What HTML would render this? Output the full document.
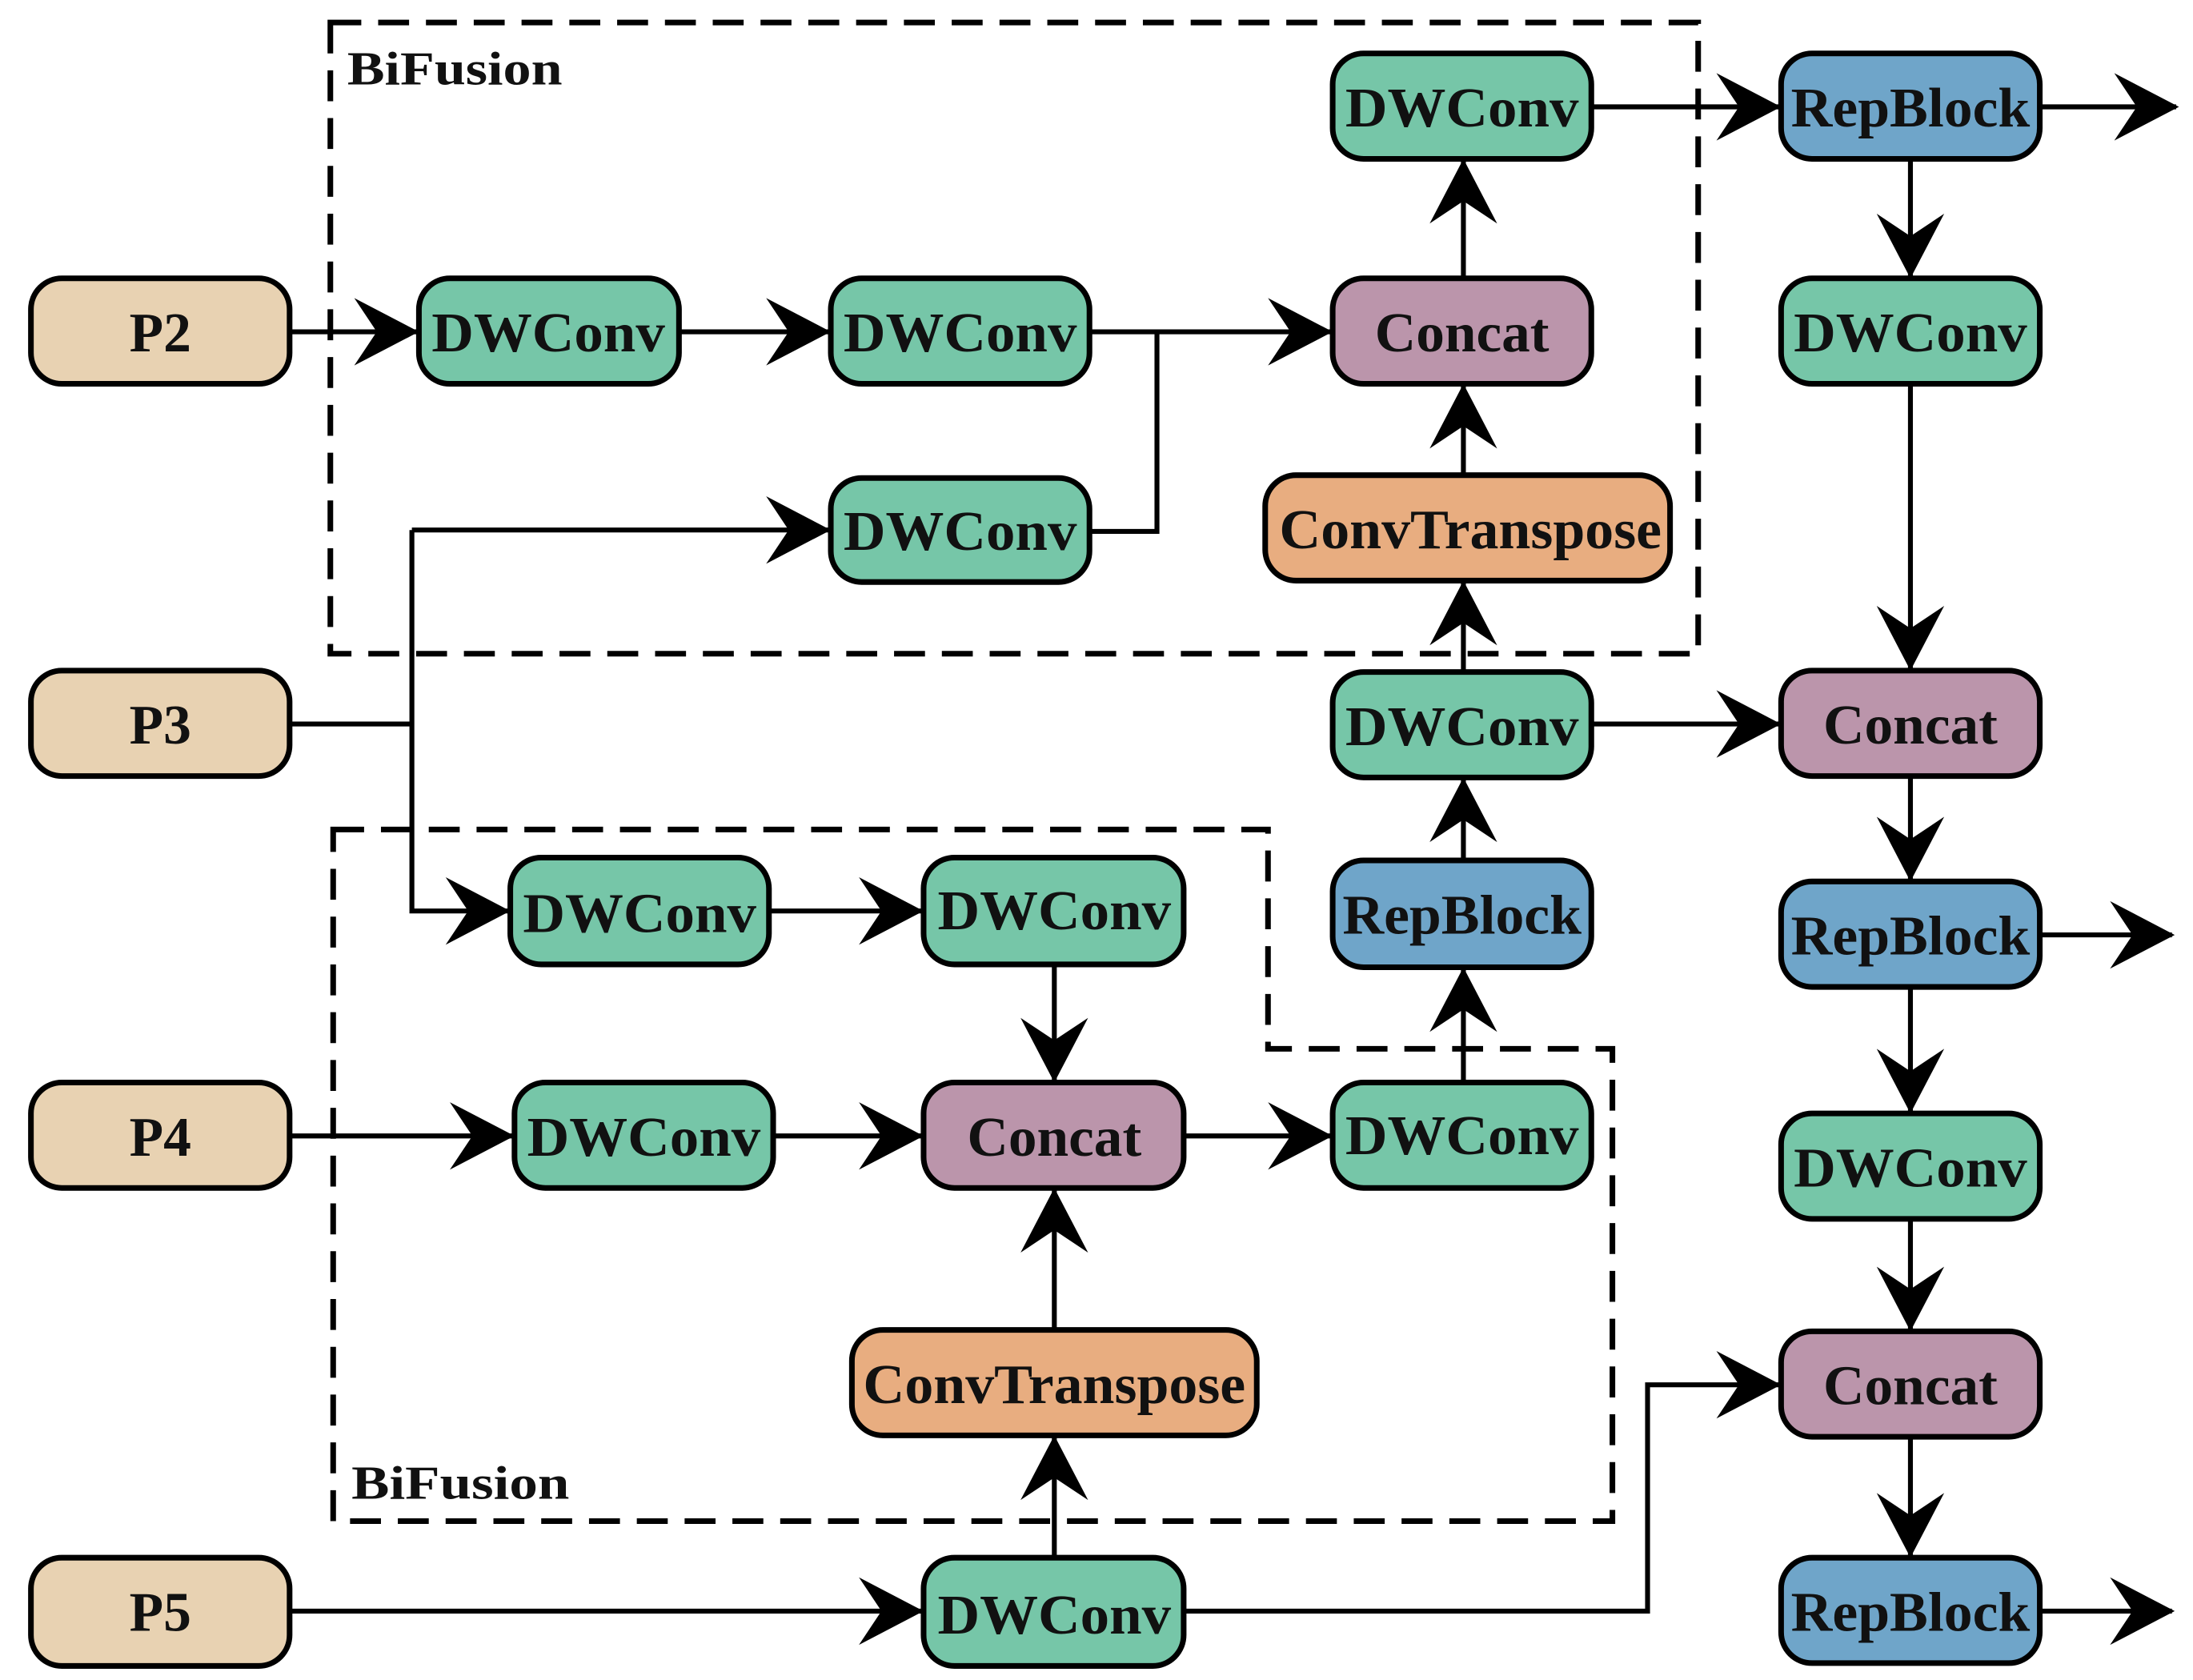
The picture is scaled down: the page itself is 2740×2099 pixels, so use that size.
<!DOCTYPE html>
<html><head><meta charset="utf-8"><style>
html,body{margin:0;padding:0;background:#fff;}
svg{display:block;}
text{font-family:"Liberation Serif",serif;font-weight:bold;fill:#111;}
</style></head><body>
<svg width="2740" height="2099" viewBox="0 0 1560 1195" preserveAspectRatio="none" xmlns="http://www.w3.org/2000/svg">
<defs>
<path id="ah" d="M0,0 L-46,-24 L-30,0 L-46,24 Z" fill="#000"/>
</defs>
<!-- dashed boxes -->
<g fill="none" stroke="#000" stroke-width="4" stroke-dasharray="22,12">
<rect x="235" y="16" width="973" height="449"/>
<path d="M237,590 L902,590 L902,746 L1147,746 L1147,1082 L237,1082 Z"/>
</g>
<text x="247" y="60" font-size="34" textLength="153" lengthAdjust="spacingAndGlyphs">BiFusion</text>
<text x="250" y="1066" font-size="34" textLength="155" lengthAdjust="spacingAndGlyphs">BiFusion</text>

<!-- connectors -->
<g fill="none" stroke="#000" stroke-width="3.5">
<path d="M206,236 H298"/>
<path d="M483,236 H591"/>
<path d="M775,236 H948"/>
<path d="M823,236 V378 H775"/>
<path d="M206,515 H293"/>
<path d="M293,377 V648 H363"/>
<path d="M293,377 H591"/>
<path d="M547,648 H657"/>
<path d="M750,686 V770"/>
<path d="M206,808 H366"/>
<path d="M550,808 H657"/>
<path d="M842,808 H948"/>
<path d="M1041,770 V688"/>
<path d="M1041,612 V553"/>
<path d="M1041,478 V413"/>
<path d="M1041,338 V273"/>
<path d="M1041,198 V113"/>
<path d="M1132,76 H1267"/>
<path d="M1451,76 H1548"/>
<path d="M1359,113 V198"/>
<path d="M1359,273 V477"/>
<path d="M1359,552 V627"/>
<path d="M1359,702 V792"/>
<path d="M1359,867 V947"/>
<path d="M1359,1022 V1108"/>
<path d="M1132,515 H1267"/>
<path d="M1451,665 H1545"/>
<path d="M1451,1146 H1545"/>
<path d="M206,1146 H657"/>
<path d="M750,1108 V1021"/>
<path d="M750,946 V845"/>
<path d="M842,1146 H1172 V985 H1267"/>
</g>
<!-- arrowheads -->
<use href="#ah" transform="translate(298,236)"/>
<use href="#ah" transform="translate(591,236)"/>
<use href="#ah" transform="translate(948,236)"/>
<use href="#ah" transform="translate(591,377)"/>
<use href="#ah" transform="translate(363,648)"/>
<use href="#ah" transform="translate(657,648)"/>
<use href="#ah" transform="translate(750,770) rotate(90)"/>
<use href="#ah" transform="translate(366,808)"/>
<use href="#ah" transform="translate(657,808)"/>
<use href="#ah" transform="translate(948,808)"/>
<use href="#ah" transform="translate(1041,688) rotate(-90)"/>
<use href="#ah" transform="translate(1041,553) rotate(-90)"/>
<use href="#ah" transform="translate(1041,413) rotate(-90)"/>
<use href="#ah" transform="translate(1041,273) rotate(-90)"/>
<use href="#ah" transform="translate(1041,113) rotate(-90)"/>
<use href="#ah" transform="translate(1267,76)"/>
<use href="#ah" transform="translate(1550,76)"/>
<use href="#ah" transform="translate(1359,198) rotate(90)"/>
<use href="#ah" transform="translate(1359,477) rotate(90)"/>
<use href="#ah" transform="translate(1359,627) rotate(90)"/>
<use href="#ah" transform="translate(1359,792) rotate(90)"/>
<use href="#ah" transform="translate(1359,947) rotate(90)"/>
<use href="#ah" transform="translate(1359,1108) rotate(90)"/>
<use href="#ah" transform="translate(1267,515)"/>
<use href="#ah" transform="translate(1547,665)"/>
<use href="#ah" transform="translate(1547,1146)"/>
<use href="#ah" transform="translate(657,1146)"/>
<use href="#ah" transform="translate(750,1021) rotate(-90)"/>
<use href="#ah" transform="translate(750,845) rotate(-90)"/>
<use href="#ah" transform="translate(1267,985)"/>

<!-- boxes -->
<g stroke="#000" stroke-width="4">
<rect x="22" y="198" width="184" height="75" rx="22" fill="#e8d2b2"/>
<rect x="22" y="477" width="184" height="75" rx="22" fill="#e8d2b2"/>
<rect x="22" y="770" width="184" height="75" rx="22" fill="#e8d2b2"/>
<rect x="22" y="1108" width="184" height="77" rx="22" fill="#e8d2b2"/>
<rect x="298" y="198" width="185" height="75" rx="22" fill="#76c6a8"/>
<rect x="591" y="198" width="184" height="75" rx="22" fill="#76c6a8"/>
<rect x="591" y="340" width="184" height="74" rx="22" fill="#76c6a8"/>
<rect x="948" y="198" width="184" height="75" rx="22" fill="#bb95ab"/>
<rect x="948" y="38" width="184" height="75" rx="22" fill="#76c6a8"/>
<rect x="900" y="338" width="288" height="75" rx="22" fill="#e8ad80"/>
<rect x="948" y="478" width="184" height="75" rx="22" fill="#76c6a8"/>
<rect x="948" y="612" width="184" height="76" rx="22" fill="#6fa5c9"/>
<rect x="948" y="770" width="184" height="75" rx="22" fill="#76c6a8"/>
<rect x="363" y="610" width="184" height="76" rx="22" fill="#76c6a8"/>
<rect x="657" y="610" width="185" height="76" rx="22" fill="#76c6a8"/>
<rect x="366" y="770" width="184" height="75" rx="22" fill="#76c6a8"/>
<rect x="657" y="770" width="185" height="75" rx="22" fill="#bb95ab"/>
<rect x="606" y="946" width="288" height="75" rx="22" fill="#e8ad80"/>
<rect x="657" y="1108" width="185" height="77" rx="22" fill="#76c6a8"/>
<rect x="1267" y="38" width="184" height="75" rx="22" fill="#6fa5c9"/>
<rect x="1267" y="198" width="184" height="75" rx="22" fill="#76c6a8"/>
<rect x="1267" y="477" width="184" height="75" rx="22" fill="#bb95ab"/>
<rect x="1267" y="627" width="184" height="75" rx="22" fill="#6fa5c9"/>
<rect x="1267" y="792" width="184" height="75" rx="22" fill="#76c6a8"/>
<rect x="1267" y="947" width="184" height="75" rx="22" fill="#bb95ab"/>
<rect x="1267" y="1108" width="184" height="75" rx="22" fill="#6fa5c9"/>
</g>

<!-- labels -->
<g font-size="40" text-anchor="middle">
<text x="114" y="250" textLength="44" lengthAdjust="spacingAndGlyphs">P2</text>
<text x="114" y="529" textLength="44" lengthAdjust="spacingAndGlyphs">P3</text>
<text x="114" y="822" textLength="44" lengthAdjust="spacingAndGlyphs">P4</text>
<text x="114" y="1160" textLength="44" lengthAdjust="spacingAndGlyphs">P5</text>
<text x="390" y="250" textLength="166" lengthAdjust="spacingAndGlyphs">DWConv</text>
<text x="683" y="250" textLength="166" lengthAdjust="spacingAndGlyphs">DWConv</text>
<text x="683" y="391" textLength="166" lengthAdjust="spacingAndGlyphs">DWConv</text>
<text x="1040" y="250" textLength="124" lengthAdjust="spacingAndGlyphs">Concat</text>
<text x="1040" y="90" textLength="166" lengthAdjust="spacingAndGlyphs">DWConv</text>
<text x="1046" y="390" textLength="272" lengthAdjust="spacingAndGlyphs">ConvTranspose</text>
<text x="1040" y="530" textLength="166" lengthAdjust="spacingAndGlyphs">DWConv</text>
<text x="1040" y="664" textLength="170" lengthAdjust="spacingAndGlyphs">RepBlock</text>
<text x="1040" y="821" textLength="166" lengthAdjust="spacingAndGlyphs">DWConv</text>
<text x="455" y="663" textLength="166" lengthAdjust="spacingAndGlyphs">DWConv</text>
<text x="750" y="661" textLength="166" lengthAdjust="spacingAndGlyphs">DWConv</text>
<text x="458" y="822" textLength="166" lengthAdjust="spacingAndGlyphs">DWConv</text>
<text x="750" y="822" textLength="124" lengthAdjust="spacingAndGlyphs">Concat</text>
<text x="750" y="998" textLength="272" lengthAdjust="spacingAndGlyphs">ConvTranspose</text>
<text x="750" y="1162" textLength="166" lengthAdjust="spacingAndGlyphs">DWConv</text>
<text x="1359" y="90" textLength="170" lengthAdjust="spacingAndGlyphs">RepBlock</text>
<text x="1359" y="250" textLength="166" lengthAdjust="spacingAndGlyphs">DWConv</text>
<text x="1359" y="529" textLength="124" lengthAdjust="spacingAndGlyphs">Concat</text>
<text x="1359" y="679" textLength="170" lengthAdjust="spacingAndGlyphs">RepBlock</text>
<text x="1359" y="844" textLength="166" lengthAdjust="spacingAndGlyphs">DWConv</text>
<text x="1359" y="999" textLength="124" lengthAdjust="spacingAndGlyphs">Concat</text>
<text x="1359" y="1160" textLength="170" lengthAdjust="spacingAndGlyphs">RepBlock</text>
</g>
</svg>
</body></html>
